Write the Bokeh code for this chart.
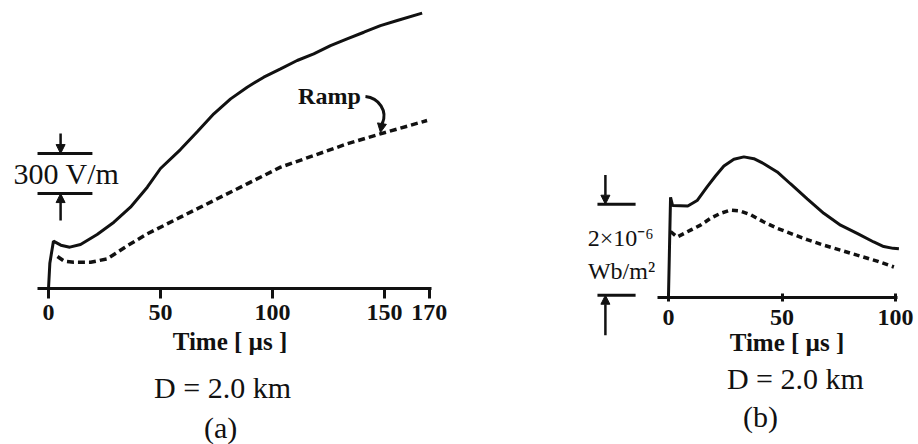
from bokeh.plotting import figure
from bokeh.layouts import row, column
from bokeh.models import FixedTicker, Label, Arrow, NormalHead, Range1d
from bokeh.embed import file_html
from bokeh.resources import INLINE

SERIF = "Liberation Serif"
INK = "#111111"

# ---- (a) electric field [V/m] against time [µs], D = 2.0 km ----
time_a_solid = [0, 0.6, 2.2, 5.5, 9.5, 14.3, 21.7, 29.2, 36.6, 44.1, 50.0, 58.9, 66.4,
                73.8, 81.3, 88.7, 96.1, 103.6, 111.0, 118.4, 125.9, 133.3, 140.8,
                148.2, 155.7, 166.8]
field_a_solid = [0, 190, 355, 325, 310, 330, 405, 497, 610, 760, 900, 1042, 1175,
                 1310, 1422, 1510, 1585, 1647, 1710, 1760, 1822, 1872, 1922,
                 1972, 2010, 2065]
time_a_ramp = [4.0, 7.0, 11.3, 18.8, 26.2, 35.3, 44.1, 58.9, 73.8, 88.7, 103.6,
               118.4, 133.3, 148.2, 169.0]
field_a_ramp = [240, 205, 197, 197, 222, 322, 410, 535, 660, 785, 910,
                997, 1085, 1160, 1260]
ticks_a = [0, 50, 100, 150, 170]
scale_a_low, scale_a_span = 712, 300          # 300 V/m scale bar

# ---- (b) magnetic flux density [1e-6 Wb/m^2] against time [µs] ----
time_b_solid = [0, 0.9, 1.8, 8.5, 12.6, 17.0, 20.7, 24.4, 28.8, 33.2, 37.6, 42.0,
                47.9, 53.7, 61.1, 68.4, 75.8, 83.1, 90.4, 94.8, 99.0, 101.5]
flux_b_solid = [0, 2.15, 1.97, 1.96, 2.08, 2.38, 2.62, 2.84, 2.99, 3.04, 3.00, 2.89,
                2.71, 2.45, 2.12, 1.80, 1.54, 1.36, 1.17, 1.07, 1.03, 1.02]
time_b_ramp = [0.9, 3.8, 9.7, 14.1, 18.5, 22.9, 27.3, 31.7, 36.1, 42.0, 47.9, 53.7,
               61.1, 68.4, 75.8, 83.1, 91.9, 99.3]
flux_b_ramp = [1.40, 1.28, 1.43, 1.54, 1.69, 1.80, 1.87, 1.85, 1.77, 1.61, 1.47, 1.36,
               1.22, 1.10, 0.99, 0.88, 0.75, 0.62]
ticks_b = [0, 50, 100]
scale_b_low, scale_b_span = 0, 2              # 2e-6 Wb/m^2 scale bar

TOP_H = 358          # height of the plotting row; captions sit underneath
CAP_H = 444 - TOP_H


def bare_figure(width, height, x_range, y_range, bottom=0, with_axis=True):
    p = figure(width=width, height=height, x_range=x_range, y_range=y_range,
               output_backend="svg", toolbar_location=None,
               min_border_left=0, min_border_right=0, min_border_top=0,
               min_border_bottom=bottom, y_axis_location=None,
               x_axis_location="below" if with_axis else None)
    if "frame_align" in p.properties():
        p.frame_align = False      # each panel keeps its own frame edges
    p.grid.visible = False
    p.outline_line_color = None
    p.background_fill_color = "white"
    p.border_fill_color = "white"
    return p


def style_time_axis(ax, ticks, bounds, tick_in, tick_out, label_gap, title_gap):
    ax.ticker = FixedTicker(ticks=ticks)
    ax.bounds = bounds
    ax.axis_line_width = 3
    ax.axis_line_color = INK
    ax.major_tick_line_width = 3
    ax.major_tick_line_color = INK
    ax.major_tick_in = tick_in
    ax.major_tick_out = tick_out
    ax.minor_tick_line_color = None
    ax.major_label_standoff = label_gap
    ax.major_label_text_font = SERIF
    ax.major_label_text_font_style = "bold"
    ax.major_label_text_font_size = "24px"
    ax.major_label_text_color = INK
    ax.axis_label = "Time [ µs ]"
    ax.axis_label_text_font = SERIF
    ax.axis_label_text_font_style = "bold"
    ax.axis_label_text_font_size = "25px"
    ax.axis_label_text_color = INK
    ax.axis_label_standoff = title_gap


def scale_bar(p, x0, x1, xa, low, span, top_from, bottom_to):
    p.segment(x0=[x0, x0], y0=[low, low + span], x1=[x1, x1], y1=[low, low + span],
              line_width=3, line_color=INK)
    head = dict(size=9, fill_color=INK, line_color=INK, line_width=1)
    p.add_layout(Arrow(end=NormalHead(**head), x_start=xa, y_start=top_from,
                       x_end=xa, y_end=low + span, line_width=2.5, line_color=INK))
    p.add_layout(Arrow(end=NormalHead(**head), x_start=xa, y_start=bottom_to,
                       x_end=xa, y_end=low, line_width=2.5, line_color=INK))


def text(p, x, y, s, size, style="normal"):
    p.add_layout(Label(x=x, y=y, text=s, text_font=SERIF, text_font_style=style,
                       text_font_size=size, text_align="center",
                       text_baseline="middle", text_color=INK))


# ---------------- panel (a) ----------------
xr_a = Range1d(-21.43, 183.48)
pa = bare_figure(459, TOP_H, xr_a, Range1d(0, 2160), bottom=TOP_H - 288)
style_time_axis(pa.xaxis[0], ticks_a, (-5, 171), 0, 10, 6, 5)

pa.line(time_a_solid, field_a_solid, line_width=3, line_color=INK)
pa.line(time_a_ramp, field_a_ramp, line_width=3.5, line_color=INK, line_dash="7 4")

scale_bar(pa, -4.9, 19.6, 5.4, scale_a_low, scale_a_span, 1162, 510)
text(pa, 8.0, 862, "300 V/m", "30px")

# "Ramp" pointer onto the dashed trace
tip_t, tip_e = time_a_ramp[13], field_a_ramp[13]
text(pa, 125.4, 1447, "Ramp", "24px", "bold")
pa.bezier(x0=[141.5], y0=[1440], x1=[tip_t + 0.8], y1=[tip_e + 75],
          cx0=[147.5], cy0=[1430], cx1=[151.5], cy1=[1330],
          line_width=3, line_color=INK)
pa.add_layout(Arrow(end=NormalHead(size=9, fill_color=INK, line_color=INK),
                    x_start=tip_t + 0.8, y_start=tip_e + 90, x_end=tip_t, y_end=tip_e + 10,
                    line_width=2.5, line_color=INK))

# ---------------- panel (b) ----------------
PX_B = 297 / 6.527                     # pixels per 1e-6 Wb/m^2
yr_b = Range1d(-0.05, 6.477)
# scale-bar key to the left of the trace, sharing the vertical scale
pk = bare_figure(196, TOP_H, Range1d(-92.07, -5.73),
                 Range1d(6.477 - TOP_H / PX_B, 6.477), with_axis=False)
scale_bar(pk, -31.3, -14.5, -27.8, scale_b_low, scale_b_span, 2.64, -0.88)
text(pk, -21.1, 1.25, "2×10⁻⁶", "24px")
text(pk, -20.7, 0.53, "Wb/m²", "24px")

pb = bare_figure(263, TOP_H, Range1d(-5.73, 110.13), yr_b, bottom=TOP_H - 297)
style_time_axis(pb.xaxis[0], ticks_b, (-5, 101), 4, 4, 8, 1)
pb.line(time_b_solid, flux_b_solid, line_width=3, line_color=INK)
pb.line(time_b_ramp, flux_b_ramp, line_width=3.5, line_color=INK, line_dash="6 4")

# ---------------- captions ----------------
ca = bare_figure(459, CAP_H, xr_a, Range1d(CAP_H, 0), with_axis=False)
text(ca, 77.7, 387 - TOP_H, "D = 2.0 km", "30px")
text(ca, 76.8, 427 - TOP_H, "(a)", "30px")
cb = bare_figure(459, CAP_H, Range1d(-92.07, 110.13), Range1d(CAP_H, 0), with_axis=False)
text(cb, 55.9, 378 - TOP_H, "D = 2.0 km", "30px")
text(cb, 40.5, 416 - TOP_H, "(b)", "30px")

layout = column(row(pa, pk, pb, spacing=0), row(ca, cb, spacing=0), spacing=0)
open("out.html", "w").write(file_html(layout, INLINE))
